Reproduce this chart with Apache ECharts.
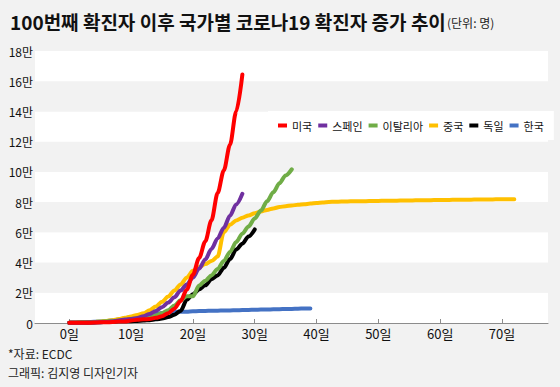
<!DOCTYPE html>
<html>
<head>
<meta charset="utf-8">
<script src="https://cdn.jsdelivr.net/npm/echarts@6/dist/echarts.min.js"></script>
<style>
html,body{margin:0;padding:0;background:#f2f2f2;}
#chart{width:560px;height:387px;}
</style>
</head>
<body>
<div id="chart"></div>
<script>
// ---- data (day index = position in array) ----
const countries = ['미국', '스페인', '이탈리아', '중국', '독일', '한국'];
const usa = [100,125,160,225,250,430,540,600,940,1040,1670,2170,2400,2700,3400,4500,6500,9500,14500,22000,32000,43000,54000,68000,86000,101000,118000,140000,164500];
const spain = [120,165,222,259,400,500,673,1073,1695,2277,2700,3300,4500,6000,8000,10500,13500,17000,21500,25500,30000,36000,42000,49000,56000,63000,71000,78500,85500];
const italy = [150,230,320,450,650,890,1130,1300,1600,1900,2200,2600,3000,3900,5000,6500,8500,11500,15000,17660,17660,24750,27980,31500,35710,41030,47020,53580,59140,63930,69180,74390,80590,86500,92470,97690,101740];
const china = [100,200,300,450,650,900,1300,1900,2600,3400,4300,5300,6400,8500,11000,14000,17500,21500,25500,30000,34500,37000,39000,41000,44000,60000,65000,67800,69700,71200,72600,73800,74800,75800,76700,77300,77800,78200,78600,79000,79400,79800,80100,80250,80350,80450,80550,80600,80650,80700,80800,80860,80920,80980,81040,81100,81160,81220,81280,81330,81380,81430,81480,81530,81580,81630,81680,81730,81780,81830,81880,81920,81950];
const germany = [117,150,188,240,349,534,684,847,1112,1200,1200,1400,1600,1900,2400,3000,3900,5500,8000,15300,19000,22200,24900,29000,31500,36500,42300,48600,52500,57300,61900];
const korea = [104,204,433,602,833,977,1261,1766,2337,3150,3736,4335,5186,5621,6088,6593,7041,7313,7478,7513,7755,7869,7979,8086,8162,8236,8320,8413,8565,8652,8799,8897,8961,9037,9137,9241,9332,9478,9583,9661];
const xTicks = [0,10,20,30,40,50,60,70];
const yMax = 180000, yStep = 20000;

const seriesValues = [usa, spain, italy, china, germany, korea];
const colors = ['#ff0000', '#7030a0', '#70ad47', '#ffc000', '#000000', '#4472c4'];
const zOrder = [8, 7, 6, 4, 5, 3];
const FONT = '"Noto Sans CJK KR", "Noto Sans", sans-serif';

const chart = echarts.init(document.getElementById('chart'), null, {renderer: 'svg'});
chart.setOption({
  backgroundColor: '#f2f2f2',
  animation: false,
  textStyle: {fontFamily: FONT},
  grid: {left: 35, right: 12, top: 51, bottom: 64, containLabel: false},
  legend: {
    data: countries,
    left: 268, top: 111,
    padding: [9, 10, 9, 10],
    backgroundColor: '#ffffff',
    icon: 'rect',
    itemWidth: 9, itemHeight: 4,
    itemGap: 6,
    textStyle: {fontSize: 11, color: '#111', fontFamily: FONT}
  },
  xAxis: {
    type: 'value',
    min: -5.55, max: 77.45,
    axisLine: {lineStyle: {color: '#8c8c8c', width: 1}},
    axisTick: {show: true, inside: true, length: 4, customValues: xTicks, lineStyle: {color: '#8c8c8c'}},
    axisLabel: {customValues: xTicks, formatter: v => v + '일', fontSize: 13, color: '#111', margin: 4, fontFamily: FONT},
    splitLine: {show: false}
  },
  yAxis: {
    type: 'value',
    min: 0, max: yMax, interval: yStep,
    axisLine: {show: false},
    axisTick: {show: false},
    axisLabel: {formatter: v => v === 0 ? '0' : (v / 10000) + '만', fontSize: 12, color: '#111', margin: 2, fontFamily: FONT},
    splitLine: {show: false},
    splitArea: {show: true, areaStyle: {color: ['#ffffff', '#f2f2f2']}}
  },
  series: countries.map((name, k) => ({
    name,
    type: 'line',
    data: seriesValues[k].map((v, i) => [i, v]),
    showSymbol: false,
    symbol: 'none',
    smooth: 0.3,
    smoothMonotone: 'x',
    z: zOrder[k],
    itemStyle: {color: colors[k]},
    lineStyle: {color: colors[k], width: 4, cap: 'round', join: 'round'}
  })),
  graphic: [
    {type: 'text', x: 10, y: 21, style: {text: '100번째 확진자 이후 국가별 코로나19 확진자 증가 추이', font: 'bold 19px ' + FONT, fill: '#111', align: 'left', verticalAlign: 'middle'}},
    {type: 'text', x: 447, y: 22, style: {text: '(단위: 명)', font: '12px ' + FONT, fill: '#222', align: 'left', verticalAlign: 'middle'}},
    {type: 'text', x: 8, y: 353, style: {text: '*자료: ECDC', font: '12px ' + FONT, fill: '#222', align: 'left', verticalAlign: 'middle'}},
    {type: 'text', x: 8, y: 372, style: {text: '그래픽: 김지영 디자인기자', font: '12px ' + FONT, fill: '#222', align: 'left', verticalAlign: 'middle'}}
  ]
});
</script>
</body>
</html>
